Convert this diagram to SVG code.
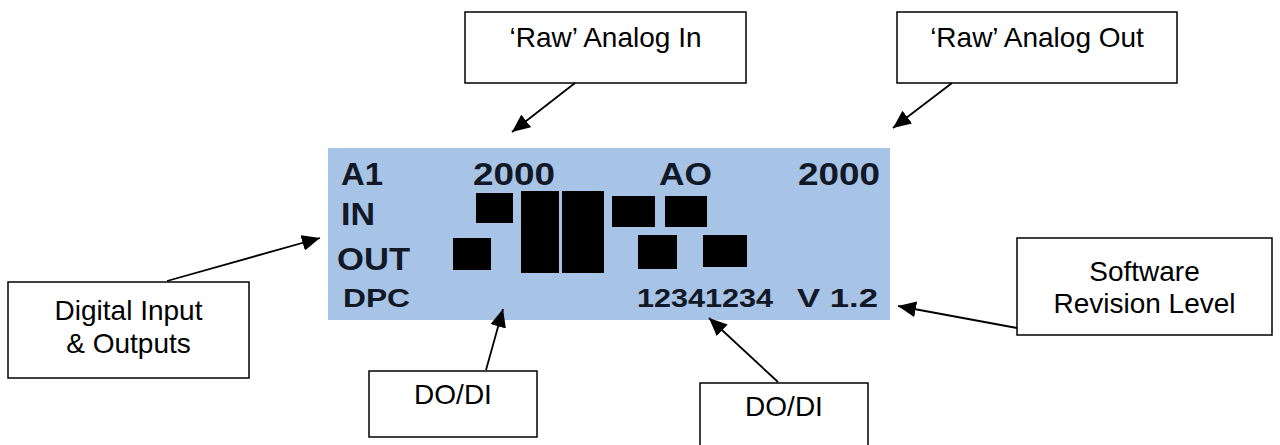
<svg xmlns="http://www.w3.org/2000/svg" width="1280" height="445" viewBox="0 0 1280 445">
<defs>
<marker id="ah" markerUnits="userSpaceOnUse" markerWidth="20" markerHeight="16" refX="18" refY="8" orient="auto">
<path d="M0,0 L18,8 L0,16 Z" fill="#000"/>
</marker>
<style>
.box{fill:#fff;stroke:#000;stroke-width:1.5}
.lbl{font-family:"Liberation Sans",Arial,sans-serif;font-size:28px;fill:#000;text-anchor:middle}
.lcd{font-family:"Liberation Sans",Arial,sans-serif;font-weight:bold;fill:#111826}
.blk{fill:#000}
.con{stroke:#000;stroke-width:1.8;fill:none;marker-end:url(#ah)}
</style>
</defs>
<rect width="1280" height="445" fill="#fff"/>
<g id="lcd-panel">
<rect x="328" y="148" width="562" height="172" fill="#a7c3e5"/>
<text class="lcd" x="341" y="185" font-size="32" textLength="42" lengthAdjust="spacingAndGlyphs">A1</text>
<text class="lcd" x="473" y="185" font-size="32" textLength="82" lengthAdjust="spacingAndGlyphs">2000</text>
<text class="lcd" x="659" y="185" font-size="32" textLength="53" lengthAdjust="spacingAndGlyphs">AO</text>
<text class="lcd" x="798" y="185" font-size="32" textLength="82" lengthAdjust="spacingAndGlyphs">2000</text>
<text class="lcd" x="341" y="225" font-size="32" textLength="34" lengthAdjust="spacingAndGlyphs">IN</text>
<text class="lcd" x="337" y="270" font-size="32" textLength="73" lengthAdjust="spacingAndGlyphs">OUT</text>
<text class="lcd" x="343" y="307" font-size="25" textLength="67" lengthAdjust="spacingAndGlyphs">DPC</text>
<text class="lcd" x="637" y="307" font-size="25" textLength="136" lengthAdjust="spacingAndGlyphs">12341234</text>
<text class="lcd" x="797" y="307" font-size="25" textLength="81" lengthAdjust="spacingAndGlyphs">V 1.2</text>
<rect class="blk" x="476" y="193" width="37" height="30"/>
<rect class="blk" x="453" y="238" width="38" height="32"/>
<rect class="blk" x="521" y="191" width="38" height="82"/>
<rect class="blk" x="562" y="191" width="42" height="82"/>
<rect class="blk" x="612" y="196" width="43" height="31"/>
<rect class="blk" x="665" y="196" width="42" height="31"/>
<rect class="blk" x="638" y="235" width="39" height="34"/>
<rect class="blk" x="703" y="235" width="44" height="32"/>
</g>
<g id="raw-analog-in">
<rect class="box" x="465" y="12" width="281" height="71"/>
<text class="lbl" x="605.5" y="47">‘Raw’ Analog In</text>
</g>
<g id="raw-analog-out">
<rect class="box" x="897" y="12" width="280" height="71"/>
<text class="lbl" x="1037" y="47">‘Raw’ Analog Out</text>
</g>
<g id="digital-io">
<rect class="box" x="8" y="282" width="241" height="96"/>
<text class="lbl" x="128.5" y="320">Digital Input</text>
<text class="lbl" x="128.5" y="353">&amp; Outputs</text>
</g>
<g id="software-rev">
<rect class="box" x="1017" y="238" width="255" height="97"/>
<text class="lbl" x="1144.5" y="281">Software</text>
<text class="lbl" x="1144.5" y="313">Revision Level</text>
</g>
<g id="dodi-1">
<rect class="box" x="369" y="371" width="168" height="66"/>
<text class="lbl" x="453" y="404">DO/DI</text>
</g>
<g id="dodi-2">
<rect class="box" x="700" y="383" width="168" height="70"/>
<text class="lbl" x="784" y="416">DO/DI</text>
</g>
<g id="connectors">
<line class="con" x1="575" y1="83" x2="512" y2="132"/>
<line class="con" x1="952" y1="83" x2="893" y2="128"/>
<line class="con" x1="167" y1="281" x2="320" y2="238"/>
<line class="con" x1="1017" y1="328" x2="898" y2="306"/>
<line class="con" x1="486" y1="370" x2="503" y2="309"/>
<line class="con" x1="778" y1="382" x2="709" y2="318"/>
</g>
</svg>
